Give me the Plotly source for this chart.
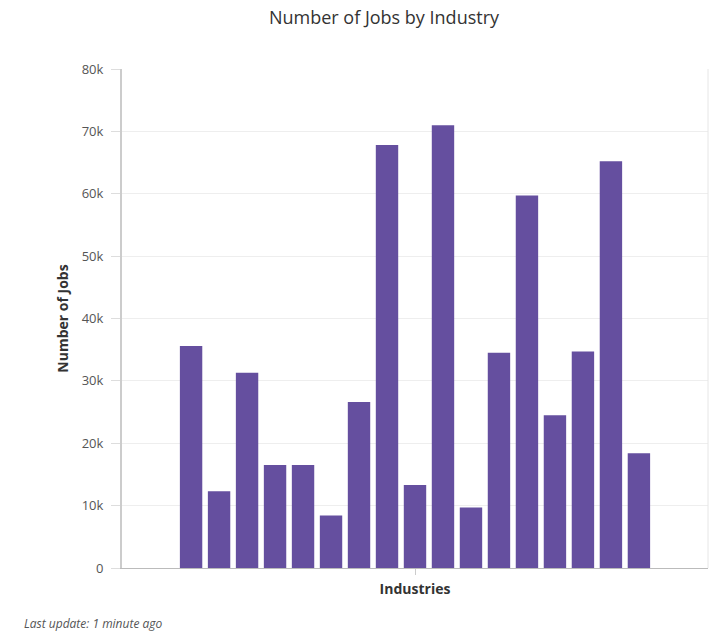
import plotly.graph_objects as go

# Jobs per industry, in the order the bars are drawn
jobs = [35600, 12300, 31300, 16500, 16500, 8400, 26600, 67800, 13300,
        71000, 9700, 34500, 59700, 24500, 34700, 65200, 18400]
industry_names = [f"Industry {i + 1}" for i in range(len(jobs))]

y_tick_values = [0, 10000, 20000, 30000, 40000, 50000, 60000, 70000, 80000]
y_tick_labels = ["0", "10k", "20k", "30k", "40k", "50k", "60k", "70k", "80k"]

BAR_COLOR = "#654f9f"
FONT = "'Open Sans', Lato, sans-serif"

fig = go.Figure()
for name, value in zip(industry_names, jobs):
    fig.add_trace(go.Bar(
        x=[0], y=[value], name=name,
        marker=dict(color=BAR_COLOR, line=dict(width=0)),
        showlegend=False,
    ))

fig.update_layout(
    width=720, height=635,
    margin=dict(l=122, r=12, t=69, b=67),
    paper_bgcolor="white", plot_bgcolor="white",
    barmode="group", bargap=0.188, bargroupgap=0.2,
    font=dict(family=FONT, color="#666666", size=12),
    title=dict(
        text="Number of Jobs by Industry",
        x=384 / 720, xanchor="center", xref="container",
        y=1 - 18 / 635, yanchor="middle", yref="container",
        font=dict(family=FONT, size=18, color="#333333"),
    ),
    xaxis=dict(
        range=[-0.5, 0.5], tickvals=[0], ticktext=[""],
        ticks="outside", ticklen=6, tickcolor="#cccccc",
        showgrid=False, zeroline=False,
        showline=True, linecolor="#bbbbbb", linewidth=1,
        title=dict(text="<b>Industries</b>", standoff=7,
                   font=dict(family=FONT, size=14, color="#333333")),
    ),
    yaxis=dict(
        range=[0, 80000], tickvals=y_tick_values, ticktext=y_tick_labels,
        ticks="outside", ticklen=9, tickcolor="#dddddd",
        ticklabelstandoff=5,
        showgrid=True, gridcolor="#eeeeee", gridwidth=1,
        zeroline=False,
        showline=True, linecolor="#cccccc", linewidth=2,
        tickfont=dict(family=FONT, size=13, color="#555555"),
        title=dict(text="<b>Number of Jobs</b>", standoff=10,
                   font=dict(family=FONT, size=14, color="#333333")),
    ),
    shapes=[dict(type="line", xref="paper", yref="paper",
                 x0=1, x1=1, y0=0, y1=1,
                 line=dict(color="#e6e6e6", width=1))],
    annotations=[dict(
        text="<i>Last update: 1 minute ago</i>",
        xref="paper", yref="paper", x=-100 / 586, y=-55 / 499,
        xanchor="left", yanchor="middle", showarrow=False,
        font=dict(family=FONT, size=12, color="#555555"),
    )],
)

fig.write_html("out.html")
